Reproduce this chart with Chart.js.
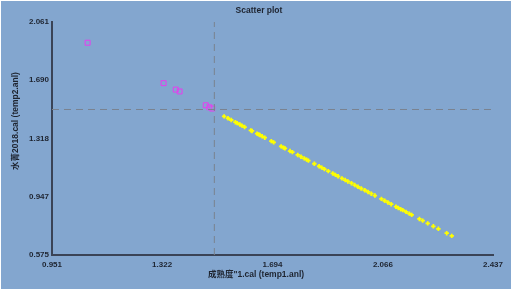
<!DOCTYPE html>
<html>
<head>
<meta charset="utf-8">
<script src="https://cdn.jsdelivr.net/npm/chart.js@4/dist/chart.umd.min.js"></script>
<style>
    body { margin: 0; background: #ffffff; }
    #scatterPlot { display: block; }
</style>
</head>
<body>
<canvas id="scatterPlot" width="513" height="290"></canvas>
<script>
// tick labels
const xTicks = [0.951, 1.322, 1.694, 2.066, 2.437];
const yTicks = [0.575, 0.947, 1.318, 1.690, 2.061];

// magenta squares (upper left group)
const squareX = [1.071, 1.327, 1.368, 1.381, 1.469, 1.481, 1.491];
const squareY = [1.929, 1.671, 1.630, 1.618, 1.530, 1.517, 1.509];

// yellow crosses (the long diagonal)
const crossX = [1.531, 1.544, 1.555, 1.569, 1.575, 1.584, 1.591, 1.600, 1.621, 1.625,
    1.642, 1.647, 1.651, 1.659, 1.668, 1.690, 1.698, 1.723, 1.731, 1.736,
    1.753, 1.761, 1.779, 1.790, 1.801, 1.809, 1.815, 1.835, 1.851, 1.860,
    1.869, 1.882, 1.897, 1.906, 1.915, 1.928, 1.939, 1.948, 1.960, 1.971,
    1.982, 1.993, 2.005, 2.016, 2.027, 2.039, 2.061, 2.072, 2.083, 2.094,
    2.110, 2.118, 2.126, 2.133, 2.144, 2.155, 2.163, 2.189, 2.200, 2.217,
    2.236, 2.253, 2.281, 2.298];
const crossY = [1.459, 1.447, 1.436, 1.422, 1.416, 1.407, 1.400, 1.391, 1.370, 1.366,
    1.349, 1.344, 1.340, 1.332, 1.323, 1.301, 1.293, 1.268, 1.260, 1.255,
    1.238, 1.231, 1.213, 1.202, 1.191, 1.183, 1.177, 1.157, 1.141, 1.132,
    1.123, 1.110, 1.095, 1.086, 1.077, 1.064, 1.053, 1.044, 1.033, 1.021,
    1.010, 0.999, 0.988, 0.977, 0.966, 0.954, 0.933, 0.921, 0.910, 0.899,
    0.883, 0.875, 0.867, 0.861, 0.850, 0.839, 0.831, 0.805, 0.794, 0.777,
    0.758, 0.742, 0.714, 0.697];

// dashed reference lines
const refX = 1.498;
const refY = 1.503;

const plotTitle = 'Scatter plot';
const xTitle = '成熟度"1.cal (temp1.anl)';
const yTitle = '水菁2018.cal (temp2.anl)';


function toPoints(xs, ys) {

    return xs.map((x, i) => ({ x: x, y: ys[i] }));
}


const backgroundPlugin = {

    id: 'background',
    beforeDraw(chart) {

        const ctx = chart.ctx;
        ctx.save();
        ctx.fillStyle = '#ffffff';
        ctx.fillRect(0, 0, chart.width, chart.height);
        ctx.fillStyle = '#83a6cf';
        ctx.fillRect(1, 1, chart.width - 3, chart.height - 2);
        ctx.restore();
    }
};


const titlesPlugin = {

    id: 'titles',
    afterDraw(chart) {

        const ctx = chart.ctx;
        ctx.save();
        ctx.fillStyle = '#1e2430';
        ctx.textAlign = 'center';
        ctx.textBaseline = 'middle';
        ctx.font = 'bold 8.5px "Liberation Sans", "Noto Sans CJK SC", sans-serif';
        ctx.fillText(plotTitle, 259, 11);
        ctx.fillText(xTitle, 256, 275);

        ctx.translate(16, 121);
        ctx.rotate(-Math.PI / 2);
        ctx.fillText(yTitle, 0, 0);
        ctx.restore();
    }
};


function axisOptions(ticks, fit) {

    return {

        type: 'linear',
        min: ticks[0],
        max: ticks[ticks.length - 1],
        afterBuildTicks: scale => { scale.ticks = ticks.map(v => ({ value: v })); },
        afterFit: fit,
        grid: { display: false, drawTicks: false },
        border: { display: true, color: '#3a4356', width: 2 },
        ticks: {

            color: '#1e2430',
            font: { family: '"Liberation Sans", sans-serif', size: 8, weight: 'bold' },
            callback: value => value.toFixed(3)
        }
    };
}


function initializeChart() {

    const ctx = document.getElementById('scatterPlot').getContext('2d');

    const xAxis = axisOptions(xTicks, scale => { scale.height = 35; });
    xAxis.ticks.padding = 5;
    xAxis.ticks.maxRotation = 0;

    const yAxis = axisOptions(yTicks, scale => { scale.width = 23; });
    yAxis.ticks.crossAlign = 'far';
    yAxis.ticks.padding = 2;

    new Chart(ctx, {

        type: 'scatter',
        data: {

            datasets: [{

                label: 'vertical ref',
                data: [{ x: refX, y: yTicks[0] }, { x: refX, y: yTicks[4] }],
                showLine: true,
                borderColor: '#7a828f',
                borderWidth: 1,
                borderDash: [7, 5],
                pointRadius: 0
            }, {

                label: 'horizontal ref',
                data: [{ x: xTicks[0], y: refY }, { x: xTicks[4], y: refY }],
                showLine: true,
                borderColor: '#7a828f',
                borderWidth: 1,
                borderDash: [7, 5],
                pointRadius: 0
            }, {

                label: 'crosses',
                data: toPoints(crossX, crossY),
                pointStyle: 'cross',
                pointRadius: 2.2,
                borderColor: '#ffff00',
                borderWidth: 1.8
            }, {

                label: 'squares',
                data: toPoints(squareX, squareY),
                pointStyle: 'rect',
                pointRadius: 3.5,
                backgroundColor: 'rgba(0,0,0,0)',
                borderColor: '#e83cf0',
                borderWidth: 1
            }]
        },
        options: {

            responsive: false,
            animation: false,
            devicePixelRatio: 1,
            layout: { padding: { top: 22, right: 20, left: 29, bottom: 0 } },
            plugins: {

                legend: { display: false },
                tooltip: { enabled: false }
            },
            scales: { x: xAxis, y: yAxis }
        },
        plugins: [backgroundPlugin, titlesPlugin]
    });
}


window.onload = function () {

    initializeChart();
};
</script>
</body>
</html>
